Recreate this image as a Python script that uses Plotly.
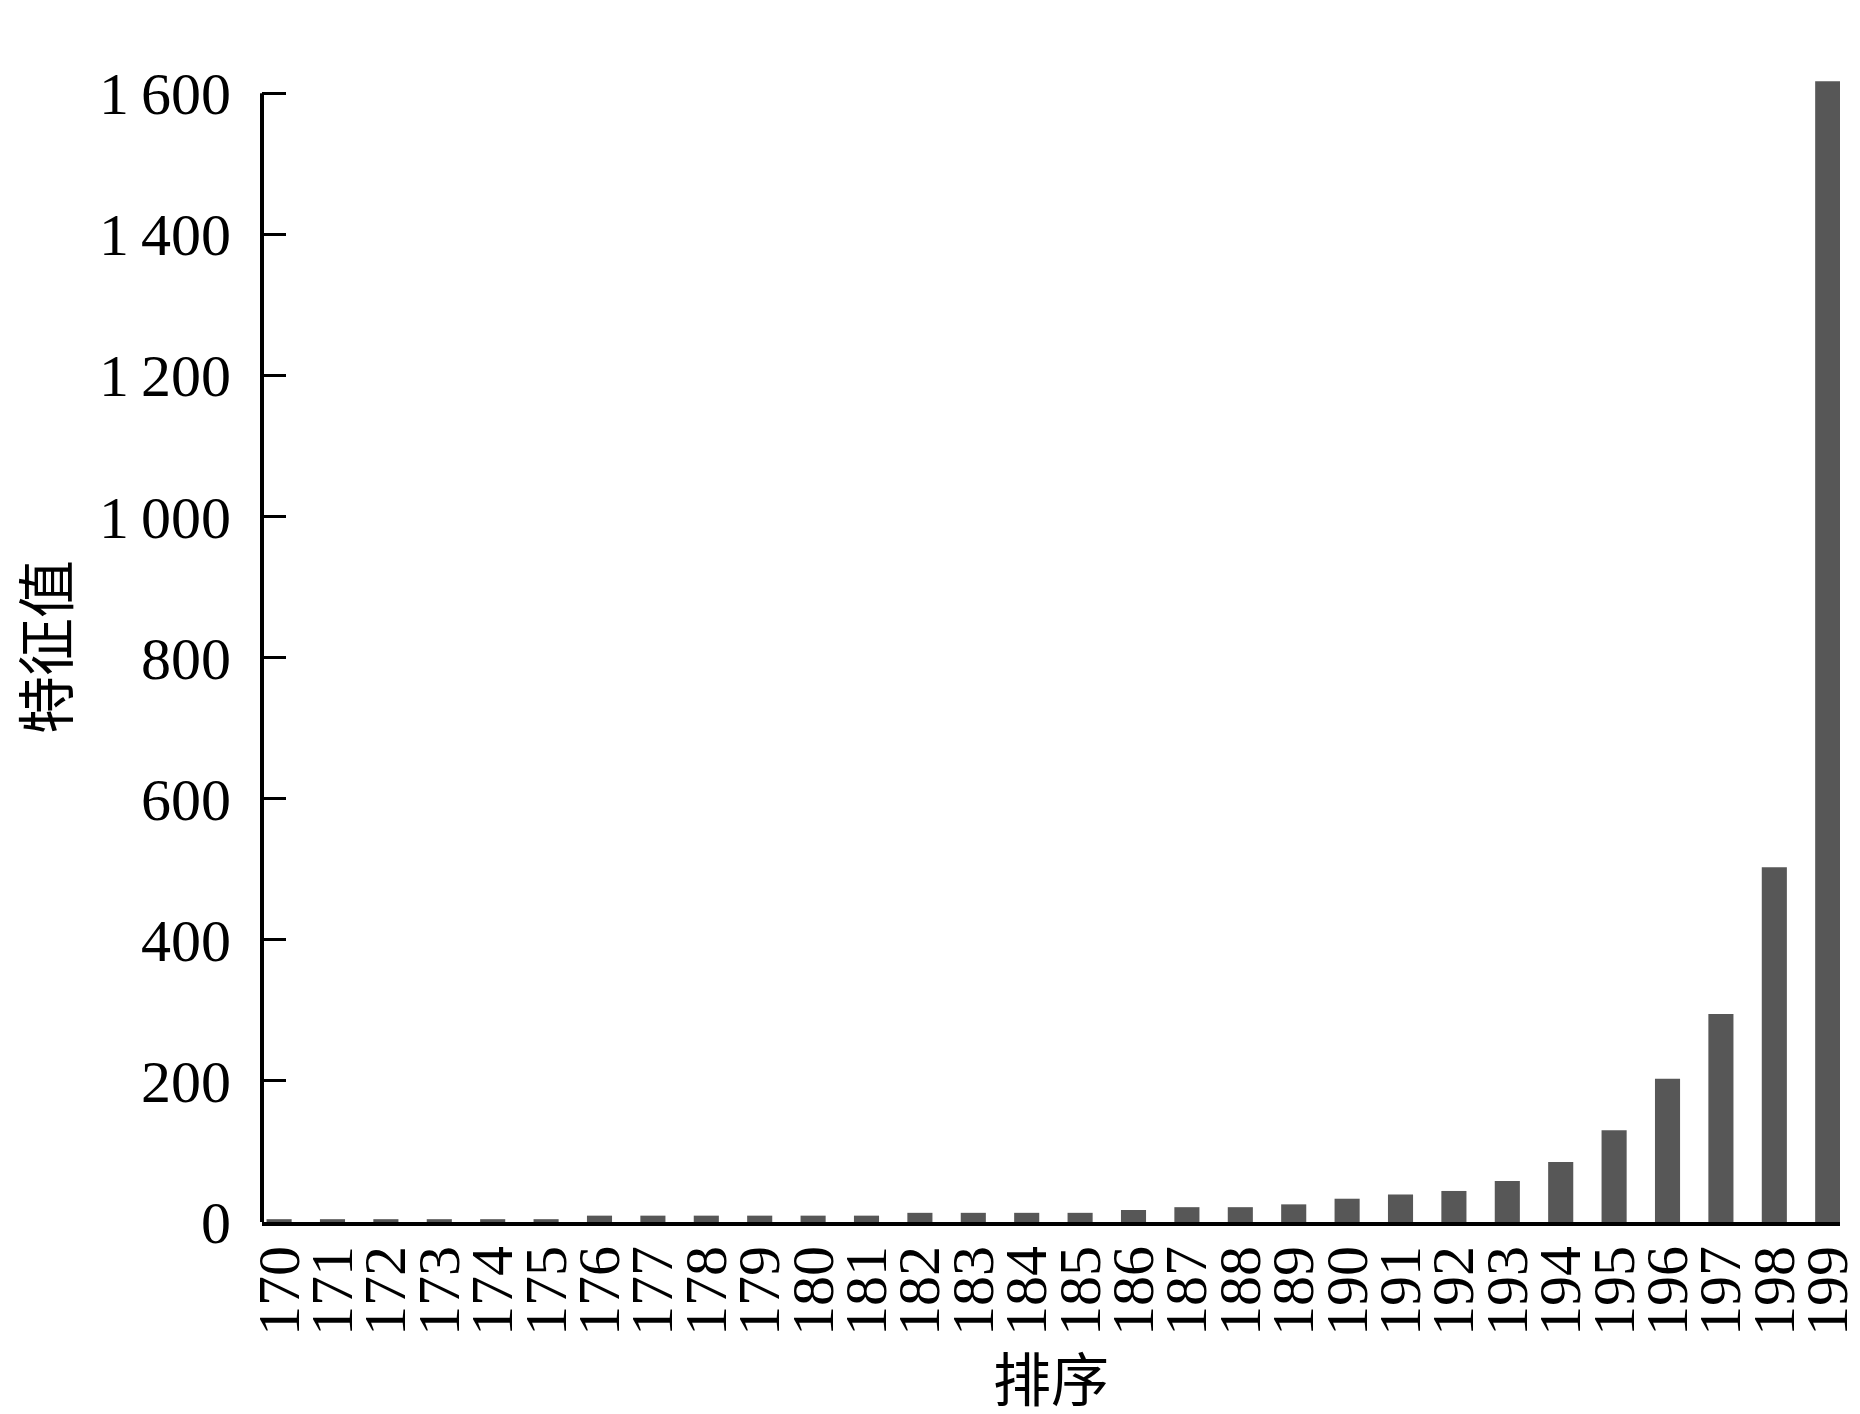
import plotly.graph_objects as go

categories = ["170", "171", "172", "173", "174", "175", "176", "177", "178", "179",
              "180", "181", "182", "183", "184", "185", "186", "187", "188", "189",
              "190", "191", "192", "193", "194", "195", "196", "197", "198", "199"]
eigenvalues = [4, 4, 4, 4, 4, 4, 9, 9, 9, 9,
               9, 9, 13, 13, 13, 13, 17, 21, 21, 25,
               33, 39, 44, 58, 85, 130, 203, 295, 503, 1617]
y_tickvals = [0, 200, 400, 600, 800, 1000, 1200, 1400, 1600]
y_ticktext = ["0", "200", "400", "600", "800", "1\u2009000", "1\u2009200", "1\u2009400", "1\u2009600"]
x_title = "排序"
y_title = "特征值"

serif = "Liberation Serif, Times New Roman, serif"
cjk = "Noto Sans CJK SC"

fig = go.Figure()
fig.add_trace(go.Bar(
    x=categories, y=eigenvalues,
    marker=dict(color="#575757", line=dict(width=0)),
    width=0.47,
))

fig.update_layout(
    width=1852, height=1406,
    margin=dict(l=254, r=20, t=57, b=192),
    paper_bgcolor="white", plot_bgcolor="white",
    showlegend=False,
    xaxis=dict(
        type="category",
        range=[-0.32, 29.23],
        tickmode="array", tickvals=categories, ticktext=categories,
        showline=True, linecolor="black", linewidth=4,
        ticks="", showgrid=False, zeroline=False,
        tickangle=-90,
        tickfont=dict(family=serif, size=60, color="black"),
        ticklabelstandoff=-4,
        automargin=False,
    ),
    yaxis=dict(
        range=[0, 1640],
        tickvals=y_tickvals, ticktext=y_ticktext,
        ticks="inside", ticklen=24, tickwidth=3, tickcolor="black",
        showline=False, showgrid=False, zeroline=False,
        tickfont=dict(family=serif, size=60, color="black"),
        ticklabelstandoff=30,
        automargin=False,
    ),
    shapes=[dict(type="line", xref="paper", yref="y", x0=0, x1=0, y0=0, y1=1600,
                 line=dict(color="black", width=4))],
    annotations=[
        dict(text=y_title, xref="paper", yref="paper", x=-0.1388, y=0.497,
             xanchor="center", yanchor="middle", textangle=-90, showarrow=False,
             font=dict(family=cjk, size=58, color="black")),
        dict(text=x_title, xref="paper", yref="paper", x=0.5, y=-0.133,
             xanchor="center", yanchor="middle", showarrow=False,
             font=dict(family=cjk, size=58, color="black")),
    ],
)

fig.write_html("out.html")
